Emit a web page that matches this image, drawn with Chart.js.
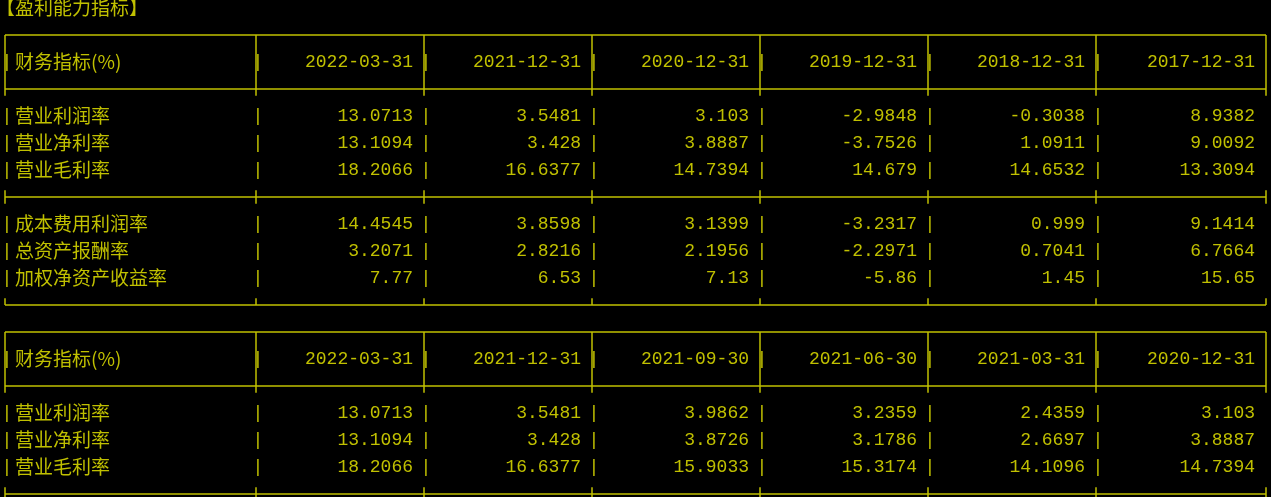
<!DOCTYPE html>
<html><head><meta charset="utf-8">
<script src="https://cdn.jsdelivr.net/npm/chart.js@4"></script>
<style>html,body{margin:0;background:#000;overflow:hidden}#c{display:block}</style>
</head><body>
<div style="width:1271px;height:497px"><canvas id="c"></canvas></div>
<script>
// 表格数据
const titulo = '【盈利能力指标】';
const encabezado = '财务指标(%)';
const fechas1 = ['2022-03-31', '2021-12-31', '2020-12-31', '2019-12-31', '2018-12-31', '2017-12-31'];
const fechas2 = ['2022-03-31', '2021-12-31', '2021-09-30', '2021-06-30', '2021-03-31', '2020-12-31'];
const filas1a = ['营业利润率', '营业净利率', '营业毛利率'];
const valores1a = [
    ['13.0713', '3.5481', '3.103', '-2.9848', '-0.3038', '8.9382'],
    ['13.1094', '3.428', '3.8887', '-3.7526', '1.0911', '9.0092'],
    ['18.2066', '16.6377', '14.7394', '14.679', '14.6532', '13.3094']
];
const filas1b = ['成本费用利润率', '总资产报酬率', '加权净资产收益率'];
const valores1b = [
    ['14.4545', '3.8598', '3.1399', '-3.2317', '0.999', '9.1414'],
    ['3.2071', '2.8216', '2.1956', '-2.2971', '0.7041', '6.7664'],
    ['7.77', '6.53', '7.13', '-5.86', '1.45', '15.65']
];
const filas2 = ['营业利润率', '营业净利率', '营业毛利率'];
const valores2 = [
    ['13.0713', '3.5481', '3.9862', '3.2359', '2.4359', '3.103'],
    ['13.1094', '3.428', '3.8726', '3.1786', '2.6697', '3.8887'],
    ['18.2066', '16.6377', '15.9033', '15.3174', '14.1096', '14.7394']
];
// 列边界 (x 轴单位)
const bordes = [5, 256, 424, 592, 760, 928, 1096, 1266];

const color = '#c0c000';
const fuenteCJK = '19px "Noto Sans CJK SC"';
const fuenteNum = '18px "Liberation Mono", "DejaVu Sans Mono", monospace';

const tablaPlugin = {
    id: 'tabla',
    afterDraw(chart) {
        const ctx = chart.ctx, x = chart.scales.x, y = chart.scales.y;
        const px = v => x.getPixelForValue(v), py = v => y.getPixelForValue(v);
        ctx.save();
        ctx.fillStyle = color; ctx.strokeStyle = color; ctx.lineWidth = 1.5;
        ctx.textBaseline = 'middle';

        function hline(r) {
            ctx.beginPath(); ctx.moveTo(px(bordes[0]), py(r)); ctx.lineTo(px(bordes[7]), py(r)); ctx.stroke();
        }
        function vlines(r0, r1) {
            bordes.forEach(b => { ctx.beginPath(); ctx.moveTo(px(b), py(r0)); ctx.lineTo(px(b), py(r1)); ctx.stroke(); });
        }
        function fila(r, etiqueta, vals) {
            ctx.font = fuenteCJK; ctx.textAlign = 'left';
            ctx.fillText(etiqueta, px(bordes[0] + 10), py(r));
            ctx.font = fuenteNum;
            vals.forEach((v, i) => { ctx.textAlign = 'right'; ctx.fillText(v, px(bordes[i + 2] - 11), py(r)); });
            ctx.textAlign = 'center';
            bordes.slice(0, 7).forEach(b => ctx.fillText('|', px(b + 2), py(r)));
        }

        ctx.font = fuenteCJK; ctx.textAlign = 'left';
        ctx.fillText(titulo, px(-4), py(0));

        // tabla 1
        hline(1); hline(3); vlines(1, 3.25);
        fila(2, encabezado, fechas1);
        filas1a.forEach((f, i) => fila(4 + i, f, valores1a[i]));
        hline(7); vlines(6.75, 7.25);
        filas1b.forEach((f, i) => fila(8 + i, f, valores1b[i]));
        hline(11); vlines(10.75, 11);

        // tabla 2
        hline(12); hline(14); vlines(12, 14.25);
        fila(13, encabezado, fechas2);
        filas2.forEach((f, i) => fila(15 + i, f, valores2[i]));
        hline(18); vlines(17.75, 18.3);
        ctx.restore();
    }
};

new Chart(document.getElementById('c'), {
    type: 'scatter',
    data: { datasets: [{ data: [], pointRadius: 0 }] },
    options: {
        responsive: true, maintainAspectRatio: false, animation: false,
        layout: { padding: 0 },
        plugins: { legend: { display: false }, tooltip: { enabled: false } },
        scales: {
            x: { type: 'linear', min: 0, max: 1271, display: false },
            y: { type: 'linear', reverse: true, min: -8 / 27, max: 489 / 27, display: false }
        }
    },
    plugins: [tablaPlugin]
});
</script>
</body></html>
